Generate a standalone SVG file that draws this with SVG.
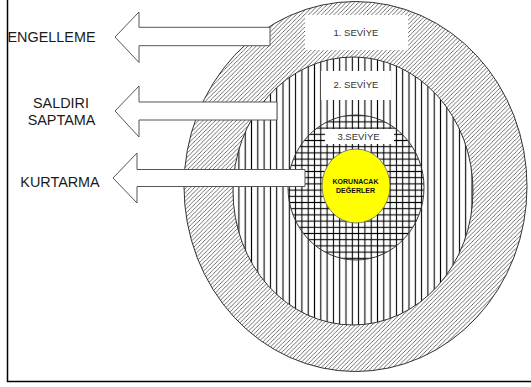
<svg xmlns="http://www.w3.org/2000/svg" width="531" height="387" viewBox="0 0 531 387">
<style>
.lbl{font-family:"Liberation Sans",Arial,sans-serif;font-size:14.4px;fill:#1a1a1a;text-anchor:middle}
.lvl{font-family:"Liberation Sans",Arial,sans-serif;font-size:9.5px;fill:#333;text-anchor:middle}
.core{font-family:"Liberation Sans",Arial,sans-serif;font-size:7px;font-weight:bold;fill:#111;text-anchor:middle}
.ring{stroke:#333;stroke-width:1}
.arrow{fill:#fff;stroke:#555;stroke-width:1}
.box{fill:#fff}
</style>
<defs>
<pattern id="diag" patternUnits="userSpaceOnUse" width="4.2" height="4.2">
<rect width="4.2" height="4.2" fill="#fff"/>
<path d="M-1,1 L1,-1 M0,4.2 L4.2,0 M3.2,5.2 L5.2,3.2" stroke="#333" stroke-width="0.7"/>
</pattern>
<pattern id="vert" patternUnits="userSpaceOnUse" x="2.65" y="0" width="6.3" height="10">
<rect width="6.3" height="10" fill="#fff"/>
<line x1="3.15" y1="0" x2="3.15" y2="10" stroke="#000" stroke-width="1.1"/>
</pattern>
<pattern id="grid" patternUnits="userSpaceOnUse" x="2.65" y="1" width="6.3" height="6.2">
<rect width="6.3" height="6.2" fill="#fff"/>
<line x1="3.15" y1="0" x2="3.15" y2="6.2" stroke="#000" stroke-width="1.1"/>
<line x1="0" y1="3.1" x2="6.3" y2="3.1" stroke="#000" stroke-width="1.1"/>
</pattern>
</defs>
<rect x="0" y="0" width="531" height="387" fill="#fff"/>
<rect x="7.5" y="-10" width="600" height="391.5" fill="none" stroke="#000" stroke-width="1.5"/>

<g id="level1">
<ellipse class="ring" cx="355.5" cy="186.5" rx="171.5" ry="185" fill="url(#diag)"/>
<rect class="box" x="305" y="15" width="103" height="35"/>
<text class="lvl" x="356" y="36">1. SEVİYE</text>
</g>
<g id="level2">
<ellipse class="ring" cx="353" cy="191" rx="120" ry="134" fill="url(#vert)"/>
<rect class="box" x="321" y="71" width="70" height="29"/>
<text class="lvl" x="356" y="87.5">2. SEVİYE</text>
</g>
<g id="level3">
<ellipse class="ring" cx="356" cy="187.5" rx="68" ry="72.5" fill="url(#grid)"/>
<rect class="box" x="325" y="129" width="69" height="15"/>
<text class="lvl" x="358.5" y="140">3.SEVİYE</text>
</g>
<g id="core">
<ellipse cx="356" cy="186" rx="34" ry="37" fill="#ffff00" stroke="#666" stroke-width="0.8"/>
<text class="core" x="355.5" y="183.5">KORUNACAK</text>
<text class="core" x="355.5" y="193">DEĞERLER</text>
</g>

<g id="connectors">
<path class="arrow" d="M115,37 L139,12 L139,27.3 L270,27.3 L270,45.7 L139,45.7 L139,62.5 Z"/>
<path class="arrow" d="M115,111 L139,86 L139,102 L277,102 L277,120 L139,120 L139,137 Z"/>
<path class="arrow" d="M113,178 L137,153 L137,169.5 L305,169.5 L305,186.5 L137,186.5 L137,203 Z"/>
</g>

<g id="engelleme"><text class="lbl" x="51.5" y="41.5">ENGELLEME</text></g>
<g id="saldiri"><text class="lbl" x="61" y="107.5">SALDIRI</text><text class="lbl" x="61.5" y="125">SAPTAMA</text></g>
<g id="kurtarma"><text class="lbl" x="60" y="186.5">KURTARMA</text></g>
</svg>
